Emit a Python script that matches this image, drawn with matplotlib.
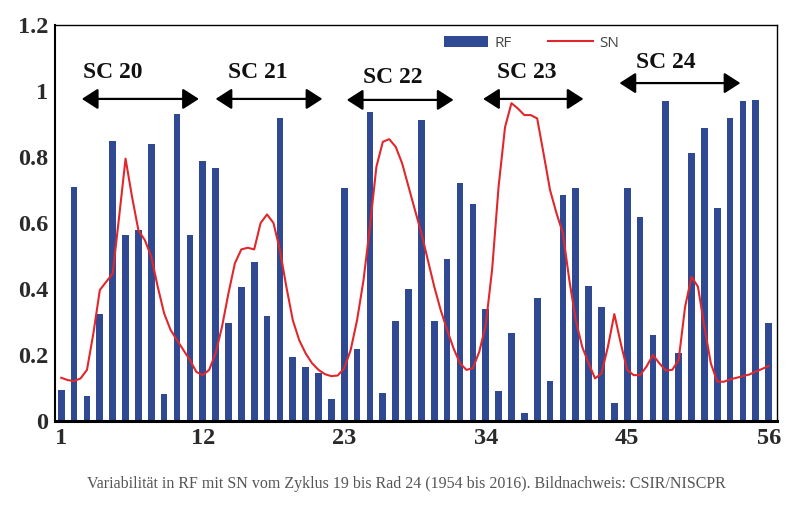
import matplotlib.pyplot as plt

# RF bars, one value per position 1..56
positions = list(range(1, 57))
rf = [0.094, 0.708, 0.077, 0.324, 0.847, 0.565, 0.578, 0.840, 0.081, 0.929,
      0.563, 0.789, 0.768, 0.296, 0.407, 0.481, 0.318, 0.917, 0.195, 0.165,
      0.146, 0.066, 0.707, 0.219, 0.937, 0.084, 0.304, 0.401, 0.911, 0.304,
      0.492, 0.721, 0.659, 0.338, 0.092, 0.266, 0.023, 0.372, 0.122, 0.685,
      0.706, 0.410, 0.346, 0.055, 0.706, 0.618, 0.262, 0.969, 0.206, 0.813,
      0.887, 0.644, 0.917, 0.969, 0.974, 0.297]

# SN curve, read every half position from 1 to 56
sn_x = [i / 2 for i in range(2, 113)]
sn = [0.131, 0.124, 0.121, 0.129, 0.155, 0.266, 0.397, 0.422, 0.447, 0.619,
      0.795, 0.680, 0.578, 0.548, 0.498, 0.407, 0.326, 0.276, 0.245, 0.215,
      0.185, 0.149, 0.139, 0.155, 0.205, 0.286, 0.387, 0.478, 0.520, 0.525,
      0.520, 0.600, 0.626, 0.600, 0.518, 0.407, 0.306, 0.245, 0.205, 0.175,
      0.155, 0.142, 0.136, 0.138, 0.160, 0.215, 0.306, 0.427, 0.590, 0.770,
      0.846, 0.854, 0.831, 0.781, 0.710, 0.639, 0.569, 0.488, 0.407, 0.336,
      0.276, 0.220, 0.175, 0.155, 0.160, 0.210, 0.290, 0.460, 0.710, 0.890,
      0.963, 0.947, 0.927, 0.927, 0.917, 0.810, 0.700, 0.630, 0.569, 0.427,
      0.306, 0.225, 0.175, 0.129, 0.144, 0.225, 0.324, 0.235, 0.155, 0.139,
      0.139, 0.165, 0.200, 0.175, 0.153, 0.155, 0.185, 0.346, 0.437, 0.407,
      0.286, 0.175, 0.119, 0.119, 0.126, 0.131, 0.136, 0.141, 0.150, 0.158,
      0.167]

x_ticks = [1, 12, 23, 34, 45, 56]
y_ticks = [0, 0.2, 0.4, 0.6, 0.8, 1, 1.2]
y_tick_labels = ["0", "0.2", "0.4", "0.6", "0.8", "1", "1.2"]

# solar cycle labels: name, text position, arrow start/end
cycles = ["SC 20", "SC 21", "SC 22", "SC 23", "SC 24"]
cycle_text = [(5.0, 1.055), (16.3, 1.055), (26.8, 1.042), (37.2, 1.055), (48.0, 1.085)]
cycle_arrows = [(2.6, 11.7, 0.976), (13.0, 21.3, 0.976), (23.2, 31.5, 0.973),
                (33.8, 41.6, 0.976), (44.4, 53.8, 1.024)]

fig = plt.figure(figsize=(8, 5.07), dpi=100)
ax = fig.add_axes([0.069, 0.1696, 0.902, 0.7811])

bars = ax.bar(positions, rf, width=0.52, color="#2F4A92", label="RF", zorder=2)
line, = ax.plot(sn_x, sn, color="#E0282C", lw=1.5, label="SN", zorder=3)

ax.set_xlim(0.53, 56.63)
ax.set_ylim(0, 1.2)
ax.set_xticks(x_ticks)
ax.set_yticks(y_ticks)
ax.set_yticklabels(y_tick_labels)
ax.tick_params(length=0, pad=5)
for lab in ax.get_xticklabels() + ax.get_yticklabels():
    lab.set_fontfamily("Liberation Serif")
    lab.set_fontweight("bold")
    lab.set_fontsize(17.5)
    lab.set_color("#2a2a2a")

for side in ["top", "right"]:
    ax.spines[side].set_linewidth(1.0)
ax.spines["left"].set_linewidth(1.5)
ax.spines["bottom"].set_linewidth(2.2)

for name, (tx, ty), (x0, x1, ay) in zip(cycles, cycle_text, cycle_arrows):
    ax.text(tx, ty, name, ha="center", va="center", fontsize=17,
            fontfamily="Liberation Serif", fontweight="bold", color="#111111")
    ax.annotate("", xy=(x1, ay), xytext=(x0, ay),
                arrowprops=dict(arrowstyle="<|-|>,head_length=0.7,head_width=0.45",
                                mutation_scale=14, color="black", lw=1.6,
                                shrinkA=0, shrinkB=0))

leg = ax.legend([bars, line], ["RF", "SN"], loc="center",
                bbox_to_anchor=(0.66, 0.954), ncol=2, frameon=False,
                handlelength=2.9, handleheight=0.7, columnspacing=2.4,
                handletextpad=0.4, prop={"family": "Open Sans", "size": 11})
for t in leg.get_texts():
    t.set_color("#444444")

fig.text(0.508, 0.045,
         "Variabilität in RF mit SN vom Zyklus 19 bis Rad 24 (1954 bis 2016). Bildnachweis: CSIR/NISCPR",
         ha="center", va="center", fontsize=11.5, fontfamily="Liberation Serif",
         color="#555555")

fig.savefig("out.png", dpi=100)
